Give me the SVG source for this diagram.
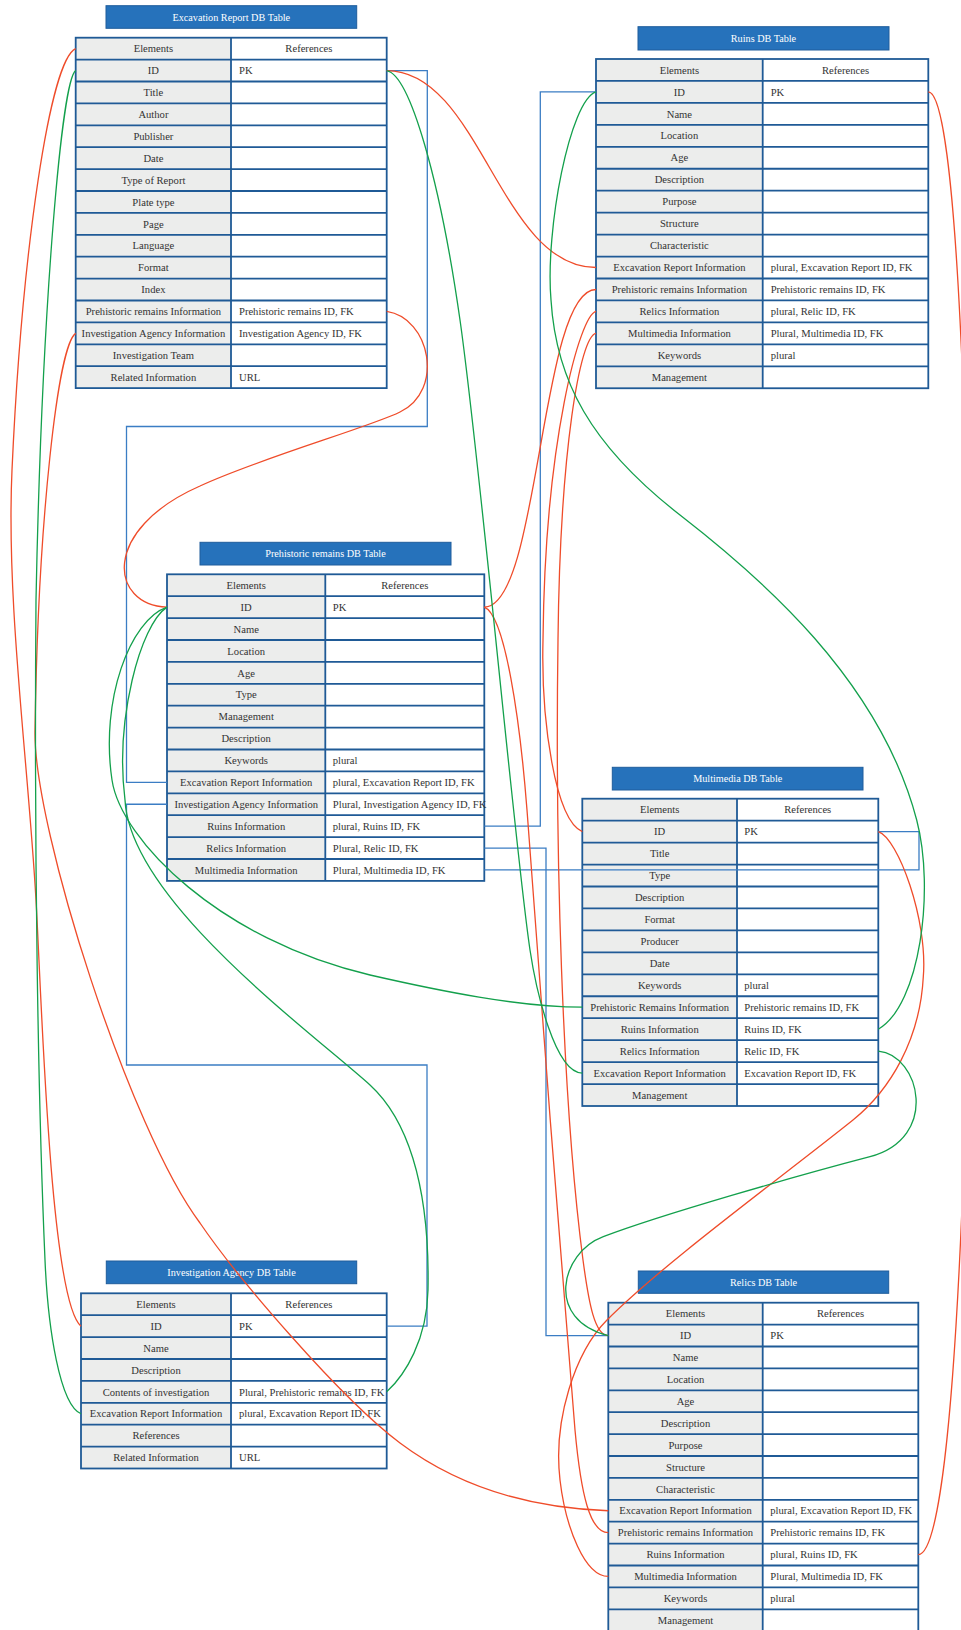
<svg xmlns="http://www.w3.org/2000/svg" width="961" height="1630" viewBox="0 0 961 1630">
<style>
.tb{fill:#2672bb;stroke:#1e5d9c;stroke-width:1}
.tt{font-family:"Liberation Serif","DejaVu Serif",serif;font-size:10.2px;fill:#fff;text-anchor:middle}
.lc{fill:#ecedec}
.rc{fill:#fff}
.gr{fill:none;stroke:#1f5a96;stroke-width:1.8}
.c{font-family:"Liberation Serif","DejaVu Serif",serif;font-size:10.6px;fill:#333;text-anchor:middle}
.r{font-family:"Liberation Serif","DejaVu Serif",serif;font-size:10.6px;fill:#333}
.red{fill:none;stroke:#ef4c2a;stroke-width:1.3}
.grn{fill:none;stroke:#13a04c;stroke-width:1.3}
.blu{fill:none;stroke:#3b7dc4;stroke-width:1.3}
</style>
<rect width="961" height="1630" fill="#fff"/>

<g id="t-excavation">
<rect class="tb" x="106" y="5.7" width="250.7" height="22.6"/>
<text class="tt" x="231.3" y="20.5">Excavation Report DB Table</text>
<rect class="lc" x="75.7" y="37.7" width="155.3" height="350.4"/>
<rect class="rc" x="231" y="37.7" width="155.7" height="350.4"/>
<path class="gr" d="M75.7 59.6H386.7M75.7 81.5H386.7M75.7 103.4H386.7M75.7 125.3H386.7M75.7 147.2H386.7M75.7 169.1H386.7M75.7 191H386.7M75.7 212.9H386.7M75.7 234.8H386.7M75.7 256.7H386.7M75.7 278.6H386.7M75.7 300.5H386.7M75.7 322.4H386.7M75.7 344.3H386.7M75.7 366.2H386.7M231 37.7V388.1"/>
<rect class="gr" x="75.7" y="37.7" width="311" height="350.4"/>
<text class="c" x="153.4" y="52.3">Elements</text><text class="c" x="308.9" y="52.3">References</text>
<text class="c" x="153.4" y="74.2">ID</text><text class="r" x="239" y="74.2">PK</text>
<text class="c" x="153.4" y="96.1">Title</text>
<text class="c" x="153.4" y="118">Author</text>
<text class="c" x="153.4" y="139.9">Publisher</text>
<text class="c" x="153.4" y="161.8">Date</text>
<text class="c" x="153.4" y="183.7">Type of Report</text>
<text class="c" x="153.4" y="205.6">Plate type</text>
<text class="c" x="153.4" y="227.5">Page</text>
<text class="c" x="153.4" y="249.4">Language</text>
<text class="c" x="153.4" y="271.3">Format</text>
<text class="c" x="153.4" y="293.2">Index</text>
<text class="c" x="153.4" y="315.1">Prehistoric remains Information</text><text class="r" x="239" y="315.1">Prehistoric remains ID, FK</text>
<text class="c" x="153.4" y="337">Investigation Agency Information</text><text class="r" x="239" y="337">Investigation Agency ID, FK</text>
<text class="c" x="153.4" y="358.9">Investigation Team</text>
<text class="c" x="153.4" y="380.8">Related Information</text><text class="r" x="239" y="380.8">URL</text>
</g>

<g id="t-ruins">
<rect class="tb" x="638" y="26.7" width="251" height="23.3"/>
<text class="tt" x="763.5" y="41.9">Ruins DB Table</text>
<rect class="lc" x="596" y="59" width="166.7" height="329.25"/>
<rect class="rc" x="762.7" y="59" width="165.6" height="329.25"/>
<path class="gr" d="M596 80.95H928.3M596 102.9H928.3M596 124.85H928.3M596 146.8H928.3M596 168.75H928.3M596 190.7H928.3M596 212.65H928.3M596 234.6H928.3M596 256.55H928.3M596 278.5H928.3M596 300.45H928.3M596 322.4H928.3M596 344.35H928.3M596 366.3H928.3M762.7 59V388.25"/>
<rect class="gr" x="596" y="59" width="332.3" height="329.25"/>
<text class="c" x="679.4" y="73.6">Elements</text><text class="c" x="845.5" y="73.6">References</text>
<text class="c" x="679.4" y="95.55">ID</text><text class="r" x="770.7" y="95.55">PK</text>
<text class="c" x="679.4" y="117.5">Name</text>
<text class="c" x="679.4" y="139.45">Location</text>
<text class="c" x="679.4" y="161.4">Age</text>
<text class="c" x="679.4" y="183.35">Description</text>
<text class="c" x="679.4" y="205.3">Purpose</text>
<text class="c" x="679.4" y="227.25">Structure</text>
<text class="c" x="679.4" y="249.2">Characteristic</text>
<text class="c" x="679.4" y="271.15">Excavation Report Information</text><text class="r" x="770.7" y="271.15">plural, Excavation Report ID, FK</text>
<text class="c" x="679.4" y="293.1">Prehistoric remains Information</text><text class="r" x="770.7" y="293.1">Prehistoric remains ID, FK</text>
<text class="c" x="679.4" y="315.05">Relics Information</text><text class="r" x="770.7" y="315.05">plural, Relic ID, FK</text>
<text class="c" x="679.4" y="337">Multimedia Information</text><text class="r" x="770.7" y="337">Plural, Multimedia ID, FK</text>
<text class="c" x="679.4" y="358.95">Keywords</text><text class="r" x="770.7" y="358.95">plural</text>
<text class="c" x="679.4" y="380.9">Management</text>
</g>

<g id="t-prehistoric">
<rect class="tb" x="200" y="542.3" width="251" height="22.7"/>
<text class="tt" x="325.5" y="557.2">Prehistoric remains DB Table</text>
<rect class="lc" x="167" y="574.3" width="158.3" height="306.6"/>
<rect class="rc" x="325.3" y="574.3" width="159" height="306.6"/>
<path class="gr" d="M167 596.2H484.3M167 618.1H484.3M167 640H484.3M167 661.9H484.3M167 683.8H484.3M167 705.7H484.3M167 727.6H484.3M167 749.5H484.3M167 771.4H484.3M167 793.3H484.3M167 815.2H484.3M167 837.1H484.3M167 859H484.3M325.3 574.3V880.9"/>
<rect class="gr" x="167" y="574.3" width="317.3" height="306.6"/>
<text class="c" x="246.2" y="588.9">Elements</text><text class="c" x="404.8" y="588.9">References</text>
<text class="c" x="246.2" y="610.8">ID</text><text class="r" x="332.8" y="610.8">PK</text>
<text class="c" x="246.2" y="632.7">Name</text>
<text class="c" x="246.2" y="654.6">Location</text>
<text class="c" x="246.2" y="676.5">Age</text>
<text class="c" x="246.2" y="698.4">Type</text>
<text class="c" x="246.2" y="720.3">Management</text>
<text class="c" x="246.2" y="742.2">Description</text>
<text class="c" x="246.2" y="764.1">Keywords</text><text class="r" x="332.8" y="764.1">plural</text>
<text class="c" x="246.2" y="786">Excavation Report Information</text><text class="r" x="332.8" y="786">plural, Excavation Report ID, FK</text>
<text class="c" x="246.2" y="807.9">Investigation Agency Information</text><text class="r" x="332.8" y="807.9">Plural, Investigation Agency ID, FK</text>
<text class="c" x="246.2" y="829.8">Ruins Information</text><text class="r" x="332.8" y="829.8">plural, Ruins ID, FK</text>
<text class="c" x="246.2" y="851.7">Relics Information</text><text class="r" x="332.8" y="851.7">Plural, Relic ID, FK</text>
<text class="c" x="246.2" y="873.6">Multimedia Information</text><text class="r" x="332.8" y="873.6">Plural, Multimedia ID, FK</text>
</g>

<g id="t-multimedia">
<rect class="tb" x="612.3" y="767.3" width="250.7" height="22.7"/>
<text class="tt" x="737.7" y="782.2">Multimedia DB Table</text>
<rect class="lc" x="582.3" y="798.7" width="154.7" height="307.3"/>
<rect class="rc" x="737" y="798.7" width="141.3" height="307.3"/>
<path class="gr" d="M582.3 820.65H878.3M582.3 842.6H878.3M582.3 864.55H878.3M582.3 886.5H878.3M582.3 908.45H878.3M582.3 930.4H878.3M582.3 952.35H878.3M582.3 974.3H878.3M582.3 996.25H878.3M582.3 1018.2H878.3M582.3 1040.15H878.3M582.3 1062.1H878.3M582.3 1084.05H878.3M737 798.7V1106"/>
<rect class="gr" x="582.3" y="798.7" width="296" height="307.3"/>
<text class="c" x="659.7" y="813.3">Elements</text><text class="c" x="807.7" y="813.3">References</text>
<text class="c" x="659.7" y="835.25">ID</text><text class="r" x="744.3" y="835.25">PK</text>
<text class="c" x="659.7" y="857.2">Title</text>
<text class="c" x="659.7" y="879.15">Type</text>
<text class="c" x="659.7" y="901.1">Description</text>
<text class="c" x="659.7" y="923.05">Format</text>
<text class="c" x="659.7" y="945">Producer</text>
<text class="c" x="659.7" y="966.95">Date</text>
<text class="c" x="659.7" y="988.9">Keywords</text><text class="r" x="744.3" y="988.9">plural</text>
<text class="c" x="659.7" y="1010.85">Prehistoric Remains Information</text><text class="r" x="744.3" y="1010.85">Prehistoric remains ID, FK</text>
<text class="c" x="659.7" y="1032.8">Ruins Information</text><text class="r" x="744.3" y="1032.8">Ruins ID, FK</text>
<text class="c" x="659.7" y="1054.75">Relics Information</text><text class="r" x="744.3" y="1054.75">Relic ID, FK</text>
<text class="c" x="659.7" y="1076.7">Excavation Report Information</text><text class="r" x="744.3" y="1076.7">Excavation Report ID, FK</text>
<text class="c" x="659.7" y="1098.65">Management</text>
</g>

<g id="t-investigation">
<rect class="tb" x="106.3" y="1261" width="250.4" height="22.7"/>
<text class="tt" x="231.5" y="1275.9">Investigation Agency DB Table</text>
<rect class="lc" x="81" y="1293.3" width="150" height="175.2"/>
<rect class="rc" x="231" y="1293.3" width="155.7" height="175.2"/>
<path class="gr" d="M81 1315.2H386.7M81 1337.1H386.7M81 1359H386.7M81 1380.9H386.7M81 1402.8H386.7M81 1424.7H386.7M81 1446.6H386.7M231 1293.3V1468.5"/>
<rect class="gr" x="81" y="1293.3" width="305.7" height="175.2"/>
<text class="c" x="156" y="1307.9">Elements</text><text class="c" x="308.9" y="1307.9">References</text>
<text class="c" x="156" y="1329.8">ID</text><text class="r" x="239" y="1329.8">PK</text>
<text class="c" x="156" y="1351.7">Name</text>
<text class="c" x="156" y="1373.6">Description</text>
<text class="c" x="156" y="1395.5">Contents of investigation</text><text class="r" x="239" y="1395.5">Plural, Prehistoric remains ID, FK</text>
<text class="c" x="156" y="1417.4">Excavation Report Information</text><text class="r" x="239" y="1417.4">plural, Excavation Report ID, FK</text>
<text class="c" x="156" y="1439.3">References</text>
<text class="c" x="156" y="1461.2">Related Information</text><text class="r" x="239" y="1461.2">URL</text>
</g>

<g id="t-relics">
<rect class="tb" x="638.3" y="1271" width="250.4" height="22.3"/>
<text class="tt" x="763.5" y="1285.7">Relics DB Table</text>
<rect class="lc" x="608.3" y="1302.7" width="154.4" height="328.5"/>
<rect class="rc" x="762.7" y="1302.7" width="155.6" height="328.5"/>
<path class="gr" d="M608.3 1324.6H918.3M608.3 1346.5H918.3M608.3 1368.4H918.3M608.3 1390.3H918.3M608.3 1412.2H918.3M608.3 1434.1H918.3M608.3 1456H918.3M608.3 1477.9H918.3M608.3 1499.8H918.3M608.3 1521.7H918.3M608.3 1543.6H918.3M608.3 1565.5H918.3M608.3 1587.4H918.3M608.3 1609.3H918.3M762.7 1302.7V1631.2"/>
<rect class="gr" x="608.3" y="1302.7" width="310" height="328.5"/>
<text class="c" x="685.5" y="1317.3">Elements</text><text class="c" x="840.5" y="1317.3">References</text>
<text class="c" x="685.5" y="1339.2">ID</text><text class="r" x="770.3" y="1339.2">PK</text>
<text class="c" x="685.5" y="1361.1">Name</text>
<text class="c" x="685.5" y="1383">Location</text>
<text class="c" x="685.5" y="1404.9">Age</text>
<text class="c" x="685.5" y="1426.8">Description</text>
<text class="c" x="685.5" y="1448.7">Purpose</text>
<text class="c" x="685.5" y="1470.6">Structure</text>
<text class="c" x="685.5" y="1492.5">Characteristic</text>
<text class="c" x="685.5" y="1514.4">Excavation Report Information</text><text class="r" x="770.3" y="1514.4">plural, Excavation Report ID, FK</text>
<text class="c" x="685.5" y="1536.3">Prehistoric remains Information</text><text class="r" x="770.3" y="1536.3">Prehistoric remains ID, FK</text>
<text class="c" x="685.5" y="1558.2">Ruins Information</text><text class="r" x="770.3" y="1558.2">plural, Ruins ID, FK</text>
<text class="c" x="685.5" y="1580.1">Multimedia Information</text><text class="r" x="770.3" y="1580.1">Plural, Multimedia ID, FK</text>
<text class="c" x="685.5" y="1602">Keywords</text><text class="r" x="770.3" y="1602">plural</text>
<text class="c" x="685.5" y="1623.9">Management</text>
</g>

<g id="connectors">
<path class="blu" d="M386.7,70.55H427.3V426.5H126.5V782.35H167"/>
<path class="blu" d="M167,804.25H126.5V1065H427V1326.15H386.7"/>
<path class="blu" d="M484.3,826.15H540.3V91.9H596"/>
<path class="blu" d="M484.3,848.05H546V1335.55H608.3"/>
<path class="blu" d="M484.3,869.95H919V831.6H878.3"/>

<path class="red" d="M75.7,48.65C50,60 22,250 12,470C6,602 28,760 36,900C41.6,998 50,1300 81,1326.15"/>
<path class="red" d="M75.7,333.35C58,345 38,520 35,732C34,830 130,1130 200,1223C236,1276 340,1398 400,1443C460,1488 530,1508 608.3,1510.75"/>
<path class="red" d="M386.7,70.55C480,70.55 500,267.5 596,267.5"/>
<path class="red" d="M386.7,311.45C430,318 445,390 400,412C370,427 260,458 200,486C100,530 110,605 167,607.15"/>
<path class="red" d="M484.3,607.15C540,607.15 540,289.5 596,289.5"/>
<path class="red" d="M484.3,607.15C505,615 520,720 527,810C535,920 565,1320 575,1430C581,1495 590,1532.65 608.3,1532.65"/>
<path class="red" d="M596,311.4C580,315 545,440 543,640C541,720 555,820 582.3,831.6"/>
<path class="red" d="M596,333.4C580,336 560,450 558,640C555,850 562,1100 583,1260C589,1305 595,1335.55 608.3,1335.55"/>
<path class="red" d="M878.3,831.6C898,838 928,920 923.3,976.7C920,1040 890,1090 853,1120C778,1180 664,1263 607,1320C575,1352 553,1420 560,1480C565.6,1528 585,1576.45 608.3,1576.45"/>
<path class="red" d="M928.3,91.9C985,91.9 985,1554.55 918.3,1554.55"/>

<path class="grn" d="M75.7,70.55C62,80 42,300 36,600C34,850 38,1100 45,1260C48,1330 60,1405 81,1413.75"/>
<path class="grn" d="M386.7,70.55C410,75 440,180 460,320C480,460 515,850 530,950C536,990 555,1073.1 582.3,1073.1"/>
<path class="grn" d="M596,91.9C570,100 545,230 551,300C556,380 590,445 680,515C760,577 880,680 916.7,820C935,890 920,1005 878.3,1029.2"/>
<path class="grn" d="M878.3,1051.1C920,1055 940,1138 870,1156.7C800,1175 660,1215 603.3,1236.7C560,1253 545,1320 608.3,1335.55"/>
<path class="grn" d="M167,607.15C130,620 100,700 112,780C121,840 220,940 370,975C440,991 520,1007.2 582.3,1007.2"/>
<path class="grn" d="M167,607.15C140,625 115,720 125,800C130,900 310,1031 370,1085C405,1117 430,1180 428,1290C427,1340 405,1375 386.7,1391.85"/>
</g>
</svg>
